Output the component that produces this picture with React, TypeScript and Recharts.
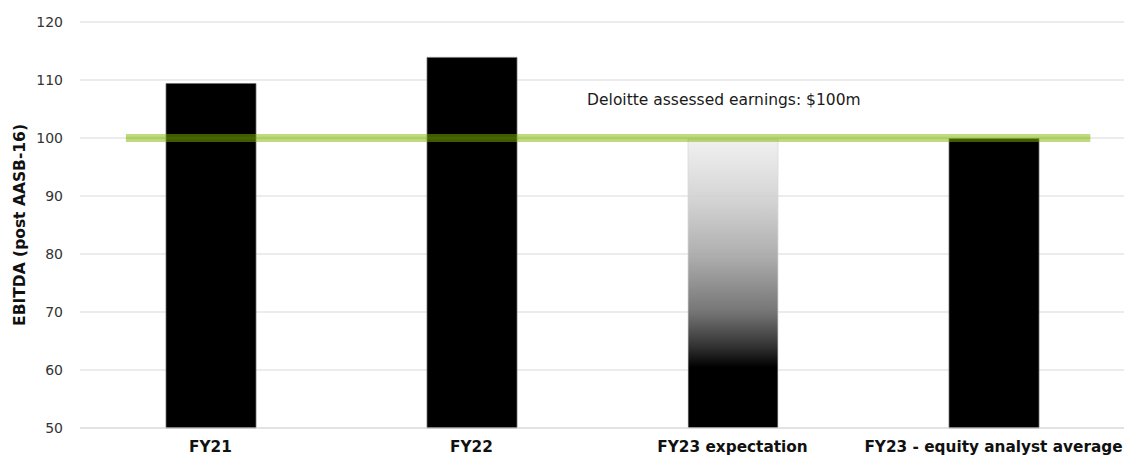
import React from "react";
import {
  ComposedChart,
  Bar,
  Cell,
  XAxis,
  YAxis,
  CartesianGrid,
  ReferenceLine,
  ReferenceDot,
} from "recharts";

const categories = ["FY21", "FY22", "FY23 expectation", "FY23 - equity analyst average"];
const ebitda = [109.4, 113.9, 99.8, 99.9];
const bandCentres = [0.5, 1.5, 2.5, 3.5];
const yTicks = [50, 60, 70, 80, 90, 100, 110, 120];
const yDomain = [50, 120];

const assessedEarnings = 100;
const assessedLineStart = 0.176; // in category-band units along x
const assessedLineEnd = 3.871;
const annotationText = "Deloitte assessed earnings: $100m";
const annotationX = 1.943;
const annotationY = 106.5;

const data = categories.map((c, i) => ({ name: c, value: ebitda[i], pos: bandCentres[i] }));

const FONT = "'DejaVu Sans', Verdana, sans-serif";

export default function App() {
  return (
    <div style={{ position: "absolute", left: 0, top: 0, background: "#fff" }}>
      <ComposedChart
        width={1124}
        height={457}
        data={data}
        margin={{ top: 22, right: 0, left: 0, bottom: 0 }}
        barCategoryGap={0}
      >
        <defs>
          <linearGradient id="expGrad" x1="0" y1="0" x2="0" y2="1">
            <stop offset="0%" stopColor="#eeeeee" stopOpacity={0.85} />
            <stop offset="20%" stopColor="#d0d0d0" stopOpacity={0.88} />
            <stop offset="40%" stopColor="#a6a6a6" stopOpacity={0.9} />
            <stop offset="60%" stopColor="#6a6a6a" stopOpacity={0.93} />
            <stop offset="72%" stopColor="#2a2a2a" stopOpacity={0.97} />
            <stop offset="79%" stopColor="#000000" stopOpacity={1} />
            <stop offset="100%" stopColor="#000000" stopOpacity={1} />
          </linearGradient>
        </defs>
        <CartesianGrid vertical={false} stroke="#d9d9d9" strokeWidth={1} />
        <XAxis
          dataKey="name"
          xAxisId={0}
          axisLine={{ stroke: "#d9d9d9" }}
          tickLine={false}
          tickSize={0}
          tickMargin={13}
          height={29}
          interval={0}
          tick={{ fontFamily: FONT, fontSize: 15.3, fontWeight: "bold", fill: "#111" }}
        />
        <XAxis
          xAxisId="line"
          dataKey="pos"
          type="number"
          domain={[0, 4]}
          allowDataOverflow={true}
          hide
        />
        <YAxis
          domain={yDomain}
          ticks={yTicks}
          width={80}
          axisLine={false}
          tickLine={false}
          tickSize={0}
          tickMargin={17}
          tick={{ fontFamily: FONT, fontSize: 14, fill: "#333" }}
          label={{
            value: "EBITDA (post AASB-16)",
            angle: -90,
            position: "insideLeft",
            offset: 19,
            style: {
              fontFamily: FONT,
              fontSize: 15.5,
              fontWeight: "bold",
              fill: "#111",
              textAnchor: "middle",
            },
          }}
        />
        <Bar dataKey="value" barSize={90} isAnimationActive={false} stroke="#6f6f6f" strokeWidth={0.75}>
          {data.map((d, i) => (
            <Cell
              key={d.name}
              fill={i === 2 ? "url(#expGrad)" : "#000000"}
              stroke={i === 2 ? "#d8d8d8" : "#6f6f6f"}
            />
          ))}
        </Bar>
        <ReferenceLine
          xAxisId="line"
          ifOverflow="visible"
          segment={[
            { x: assessedLineStart, y: assessedEarnings },
            { x: assessedLineEnd, y: assessedEarnings },
          ]}
          stroke="#7fb500"
          strokeOpacity={0.5}
          strokeWidth={8}
        />
        <ReferenceLine
          xAxisId="line"
          ifOverflow="visible"
          segment={[
            { x: assessedLineStart, y: assessedEarnings },
            { x: assessedLineEnd, y: assessedEarnings },
          ]}
          stroke="#7fb500"
          strokeOpacity={0.12}
          strokeWidth={3}
        />
        <ReferenceDot
          xAxisId="line"
          ifOverflow="visible"
          x={annotationX}
          y={annotationY}
          r={0}
          shape={(p: any) => (
            <text
              x={p.cx}
              y={p.cy}
              dominantBaseline="central"
              fontFamily={FONT}
              fontSize={15.5}
              fill="#1a1a1a"
            >
              {annotationText}
            </text>
          )}
        />
      </ComposedChart>
    </div>
  );
}
